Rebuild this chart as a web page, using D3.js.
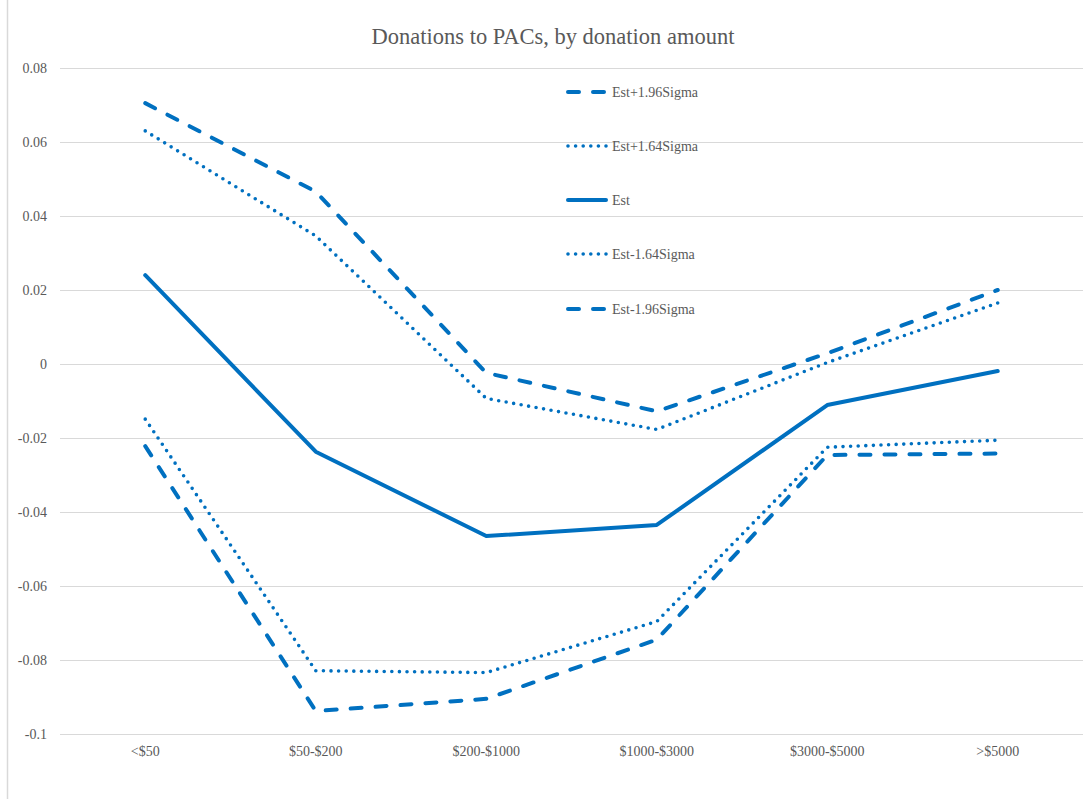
<!DOCTYPE html>
<html>
<head>
<meta charset="utf-8">
<script src="https://cdn.jsdelivr.net/npm/d3@7/dist/d3.min.js"></script>
<style>
  html, body { margin: 0; padding: 0; background: #fff; }
  svg { display: block; }
  text { font-family: "Liberation Serif", "Times New Roman", serif; fill: #595959; }
</style>
</head>
<body>
<svg id="chart" width="1091" height="799"></svg>
<script>
// Donation amount buckets
const categories = ["<$50", "$50-$200", "$200-$1000", "$1000-$3000", "$3000-$5000", ">$5000"];

// Point estimate and confidence bounds per bucket
const est       = [0.0240, -0.0237, -0.0465, -0.0435, -0.0111, -0.0019];
const estPlus196  = [0.0705, 0.0466, -0.0024, -0.0128, 0.0029, 0.0200];
const estPlus164  = [0.0630, 0.0346, -0.0093, -0.0177, 0.0004, 0.0165];
const estMinus164 = [-0.0149, -0.0829, -0.0834, -0.0696, -0.0225, -0.0206];
const estMinus196 = [-0.0222, -0.0938, -0.0905, -0.0745, -0.0246, -0.0242];

const yTicks = [0.08, 0.06, 0.04, 0.02, 0, -0.02, -0.04, -0.06, -0.08, -0.1];
const yTickLabels = ["0.08", "0.06", "0.04", "0.02", "0", "-0.02", "-0.04", "-0.06", "-0.08", "-0.1"];

const series = [
  { name: "Est+1.96Sigma", values: estPlus196, style: "dash" },
  { name: "Est+1.64Sigma", values: estPlus164, style: "dot" },
  { name: "Est", values: est, style: "solid" },
  { name: "Est-1.64Sigma", values: estMinus164, style: "dot" },
  { name: "Est-1.96Sigma", values: estMinus196, style: "dash" }
];

const blue = "#0070C0";
const svg = d3.select("#chart");
const plot = { left: 60, right: 1083, top: 68, bottom: 734 };

const x = d3.scaleBand().domain(categories).range([plot.left, plot.right]);
const y = d3.scaleLinear().domain([-0.1, 0.08]).range([plot.bottom, plot.top]);

// chart frame edge on the left
svg.append("line")
  .attr("x1", 7.5).attr("x2", 7.5).attr("y1", 0).attr("y2", 799)
  .attr("stroke", "#d9d9d9").attr("stroke-width", 1.5);

// title
svg.append("text")
  .attr("x", 553).attr("y", 44)
  .attr("text-anchor", "middle")
  .style("font-size", "22.5px")
  .text("Donations to PACs, by donation amount");

// horizontal gridlines
svg.append("g").selectAll("line").data(yTicks).join("line")
  .attr("x1", plot.left).attr("x2", plot.right)
  .attr("y1", d => Math.round(y(d)) + 0.5).attr("y2", d => Math.round(y(d)) + 0.5)
  .attr("stroke", "#d9d9d9").attr("stroke-width", 1);

// y axis labels
const yAxis = d3.axisLeft(y).tickValues(yTicks)
  .tickFormat((d, i) => yTickLabels[i]).tickSize(0).tickPadding(13);
const gy = svg.append("g").attr("transform", `translate(${plot.left},0)`).call(yAxis);
gy.select(".domain").remove();
gy.selectAll("text").style("font-size", "14px")
  .style("font-family", '"Liberation Serif", serif').attr("fill", "#595959");

// x axis labels
const xAxis = d3.axisBottom(x).tickSize(0).tickPadding(12);
const gx = svg.append("g").attr("transform", `translate(0,${plot.bottom})`).call(xAxis);
gx.select(".domain").remove();
gx.selectAll("text").style("font-size", "14px")
  .style("font-family", '"Liberation Serif", serif').attr("fill", "#595959");

function styleLine(sel, style) {
  sel.attr("fill", "none").attr("stroke", blue).attr("stroke-linejoin", "round");
  if (style === "solid") {
    sel.attr("stroke-width", 4).attr("stroke-linecap", "round");
  } else if (style === "dash") {
    sel.attr("stroke-width", 4).attr("stroke-linecap", "round").attr("stroke-dasharray", "11,14");
  } else {
    sel.attr("stroke-width", 3.6).attr("stroke-linecap", "round").attr("stroke-dasharray", "0,7.6");
  }
}

const line = d3.line()
  .x((d, i) => x(categories[i]) + x.bandwidth() / 2)
  .y(d => y(d));

series.forEach(s => {
  svg.append("path").datum(s.values).attr("d", line).call(styleLine, s.style);
});

// legend
const legendY = [92, 146, 200, 254, 309];
const legend = svg.append("g");
series.forEach((s, i) => {
  const gY = legendY[i];
  legend.append("line")
    .attr("x1", 568).attr("x2", 606).attr("y1", gY).attr("y2", gY)
    .call(styleLine, s.style);
  legend.append("text")
    .attr("x", 612).attr("y", gY + 5)
    .style("font-size", "14px")
    .text(s.name);
});
</script>
</body>
</html>
